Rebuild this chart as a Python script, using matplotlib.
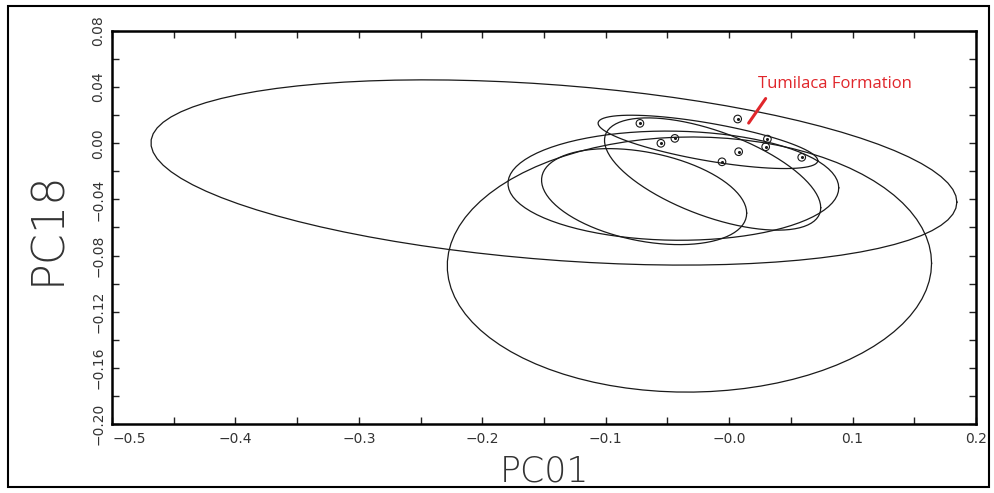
import numpy as np
import matplotlib.pyplot as plt
from matplotlib.ticker import MultipleLocator, FixedLocator, FixedFormatter
from matplotlib.patches import Rectangle

# ---- Sample scores (PC01, PC18)
pc01 = [-0.0723, 0.0069, -0.0440, -0.0553, 0.0310, 0.0296, 0.0077, -0.0058, 0.0588]
pc18 = [0.0142, 0.0173, 0.0035, 0.0000, 0.0030, -0.0025, -0.0060, -0.0132, -0.0100]

# ---- Confidence ellipses: centre, half-range in x and y, and x/y correlation
ell_cx = [-0.142, -0.0322, -0.0452, -0.0689, -0.0172, -0.0134]
ell_cy = [-0.0208, -0.0864, -0.0302, -0.0380, 0.0010, -0.0219]
ell_ax = [0.3265, 0.1962, 0.1340, 0.0831, 0.0890, 0.0876]
ell_by = [0.0660, 0.0909, 0.0389, 0.0342, 0.0190, 0.0400]
ell_r = [-0.320, 0.010, -0.040, -0.344, -0.700, -0.600]

# ---- Axis ticks
x_ticks = [-0.5, -0.4, -0.3, -0.2, -0.1, 0.0, 0.1, 0.2]
x_labels = ['\u22120.5', '\u22120.4', '\u22120.3', '\u22120.2', '\u22120.1',
            '\u22120.0', '0.1', '0.2']
y_ticks = [-0.20, -0.16, -0.12, -0.08, -0.04, 0.00, 0.04, 0.08]
y_labels = ['\u22120.20', '\u22120.16', '\u22120.12', '\u22120.08',
            '\u22120.04', '0.00', '0.04', '0.08']

annot_text = 'Tumilaca Formation'
annot_xy = (0.0158, 0.0144)       # point on the ellipse
annot_text_xy = (0.0231, 0.0420)  # where the label sits


def ellipse_points(cx, cy, ax_, by, r, n=90):
    t = np.linspace(0, 2 * np.pi, n)
    s = np.sqrt(1 - r ** 2)
    x = cx + ax_ * np.cos(t)
    y = cy + by * (r * np.cos(t) + s * np.sin(t))
    return x, y


fig = plt.figure(figsize=(9.95, 4.93), dpi=100)
ax = fig.add_axes([0.1126, 0.1400, 0.8683, 0.7971])

# Draw ellipses
for cx, cy, a, b, r in zip(ell_cx, ell_cy, ell_ax, ell_by, ell_r):
    ex, ey = ellipse_points(cx, cy, a, b, r)
    ax.plot(ex, ey, color='#1a1a1a', lw=0.9)

# Sample points: open circle with a dot in the middle
ax.scatter(pc01, pc18, s=30, facecolors='none', edgecolors='#1a1a1a',
           linewidths=0.8, zorder=3)
ax.scatter(pc01, pc18, s=1.5, color='#1a1a1a', zorder=3)

# Red annotation
ax.annotate(annot_text, xy=annot_xy, xytext=annot_text_xy,
            color='#e0262b', fontsize=12, family='Open Sans',
            ha='left', va='center',
            arrowprops=dict(arrowstyle='-', color='#e0262b', lw=2.2,
                            shrinkA=3, shrinkB=0, relpos=(0.08, 0.0)))

ax.set_xlim(-0.5, 0.2)
ax.set_ylim(-0.20, 0.08)

ax.xaxis.set_major_locator(FixedLocator(x_ticks))
ax.xaxis.set_major_formatter(FixedFormatter(x_labels))
ax.xaxis.set_minor_locator(MultipleLocator(0.05))
ax.yaxis.set_major_locator(FixedLocator(y_ticks))
ax.yaxis.set_major_formatter(FixedFormatter(y_labels))
ax.yaxis.set_minor_locator(MultipleLocator(0.02))

ax.tick_params(which='both', direction='in', top=True, right=True,
               length=5, width=1, colors='#222222', labelcolor='#333333',
               labelsize=10)
ax.tick_params(axis='x', pad=6)
ax.tick_params(axis='y', pad=5)
plt.setp(ax.get_yticklabels(), rotation=90, va='center')
ax.get_xticklabels()[0].set_horizontalalignment('left')

for sp in ax.spines.values():
    sp.set_linewidth(1.8)

ax.set_xlabel('PC01', fontsize=25, color='#333333', labelpad=6,
              fontweight='light')
ax.set_ylabel('PC18', fontsize=32, color='#333333', labelpad=16,
              fontweight='light')

# Outer frame round the whole picture
fig.patches.append(Rectangle((8 / 995, 6 / 493), 981 / 995, 481 / 493,
                             transform=fig.transFigure, fill=False,
                             edgecolor='black', lw=1.5))

plt.savefig('out.png', dpi=100)
